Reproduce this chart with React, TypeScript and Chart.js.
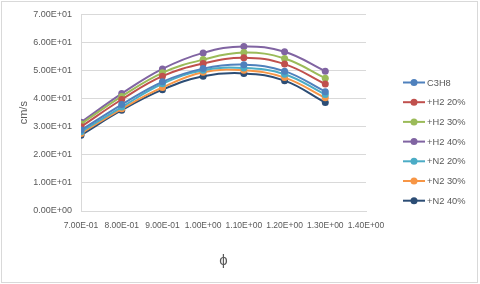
import React, { useEffect, useRef } from "react";
import { Chart, registerables } from "chart.js";

Chart.register(...registerables);

const phi = [0.7, 0.8, 0.9, 1.0, 1.1, 1.2, 1.3];
const seriesNames = ["C3H8", "+H2 20%", "+H2 30%", "+H2 40%", "+N2 20%", "+N2 30%", "+N2 40%"];
const c3h8 = [28.8, 37.9, 46.0, 50.7, 52.1, 49.8, 42.5];
const h2_20 = [30.0, 39.7, 48.0, 52.5, 54.6, 52.3, 45.2];
const h2_30 = [31.0, 40.8, 49.2, 53.9, 56.4, 54.3, 47.3];
const h2_40 = [31.6, 41.8, 50.6, 56.3, 58.6, 56.7, 49.8];
const n2_20 = [28.2, 37.0, 45.3, 50.1, 50.9, 48.7, 41.5];
const n2_30 = [27.6, 36.4, 44.0, 49.4, 50.1, 47.5, 40.3];
const n2_40 = [27.0, 35.9, 43.2, 48.0, 49.0, 46.4, 38.6];
const colors = ["#4F81BD", "#C0504D", "#9BBB59", "#8064A2", "#4BACC6", "#F79646", "#2C4D75"];
const yTitle = "cm/s";
const xTitle = "ϕ";

const allSeries = [c3h8, h2_20, h2_30, h2_40, n2_20, n2_30, n2_40];

const excelExp = (v: number) => {
  const [m, e] = Number(v).toExponential(2).split("e");
  const n = parseInt(e, 10);
  return m + "E" + (n < 0 ? "-" : "+") + String(Math.abs(n)).padStart(2, "0");
};

const FONT = "'Liberation Sans', Arial, sans-serif";
const TXT = "#595959";

const legendPlugin = {
  id: "excelLegend",
  afterDraw(chart: any) {
    const ctx = chart.ctx;
    ctx.save();
    const x0 = 403, x1 = 425, startY = 82.5, gap = 19.7;
    chart.data.datasets.forEach((ds: any, i: number) => {
      const y = startY + i * gap;
      ctx.strokeStyle = ds.borderColor;
      ctx.lineWidth = 2;
      ctx.beginPath();
      ctx.moveTo(x0, y);
      ctx.lineTo(x1, y);
      ctx.stroke();
      ctx.fillStyle = ds.borderColor;
      ctx.beginPath();
      ctx.arc((x0 + x1) / 2, y, 3.5, 0, Math.PI * 2);
      ctx.fill();
      ctx.fillStyle = TXT;
      ctx.font = "9.3px " + FONT;
      ctx.textBaseline = "middle";
      ctx.textAlign = "left";
      ctx.fillText(ds.label, x1 + 2, y + 0.5);
    });
    ctx.strokeStyle = "#D9D9D9";
    ctx.lineWidth = 1;
    ctx.strokeRect(1.5, 1.5, 476, 281);
    ctx.restore();
  },
};

export default function App() {
  const ref = useRef<HTMLCanvasElement>(null);
  useEffect(() => {
    if (!ref.current) return;
    const chart = new Chart(ref.current, {
      type: "line",
      data: {
        datasets: allSeries.map((vals, i) => ({
          label: seriesNames[i],
          data: vals.map((v, j) => ({ x: phi[j], y: v })),
          borderColor: colors[i],
          backgroundColor: colors[i],
          borderWidth: 2,
          pointRadius: 3.5,
          pointBorderWidth: 0,
          pointBackgroundColor: colors[i],
          tension: 0.4,
          fill: false,
        })),
      },
      options: {
        responsive: false,
        animation: false,
        layout: { padding: { left: 0, top: 14, right: 114, bottom: 0 } },
        plugins: { legend: { display: false }, tooltip: { enabled: false } },
        scales: {
          x: {
            type: "linear",
            min: 0.7,
            max: 1.4,
            afterFit: (s: any) => { s.height = 73; },
            ticks: {
              stepSize: 0.1,
              autoSkip: false,
              maxRotation: 0,
              minRotation: 0,
              padding: 10,
              color: TXT,
              font: { family: FONT, size: 8.5 },
              callback: (v: any) => excelExp(Number(v)),
            },
            grid: { display: false, drawTicks: false },
            border: { display: true, color: "#D9D9D9", width: 1 },
            title: {
              display: true,
              text: xTitle,
              color: TXT,
              font: { family: FONT, size: 15 },
              padding: { top: 0, bottom: 14 },
            },
          },
          y: {
            min: 0,
            max: 70,
            afterFit: (s: any) => { s.width = 81; },
            ticks: {
              stepSize: 10,
              padding: 9,
              color: TXT,
              font: { family: FONT, size: 9 },
              callback: (v: any) => excelExp(Number(v)),
            },
            grid: { color: "#D9D9D9", lineWidth: 1, drawTicks: false },
            border: { display: true, color: "#D9D9D9", width: 1 },
            title: {
              display: true,
              text: yTitle,
              color: TXT,
              font: { family: FONT, size: 11 },
              padding: { top: 17, bottom: 0 },
            },
          },
        },
      },
      plugins: [legendPlugin],
    } as any);
    return () => chart.destroy();
  }, []);
  return (
    <div style={{ position: "fixed", left: 0, top: 0, width: 480, height: 284, background: "#fff" }}>
      <canvas ref={ref} width={480} height={284} />
    </div>
  );
}
